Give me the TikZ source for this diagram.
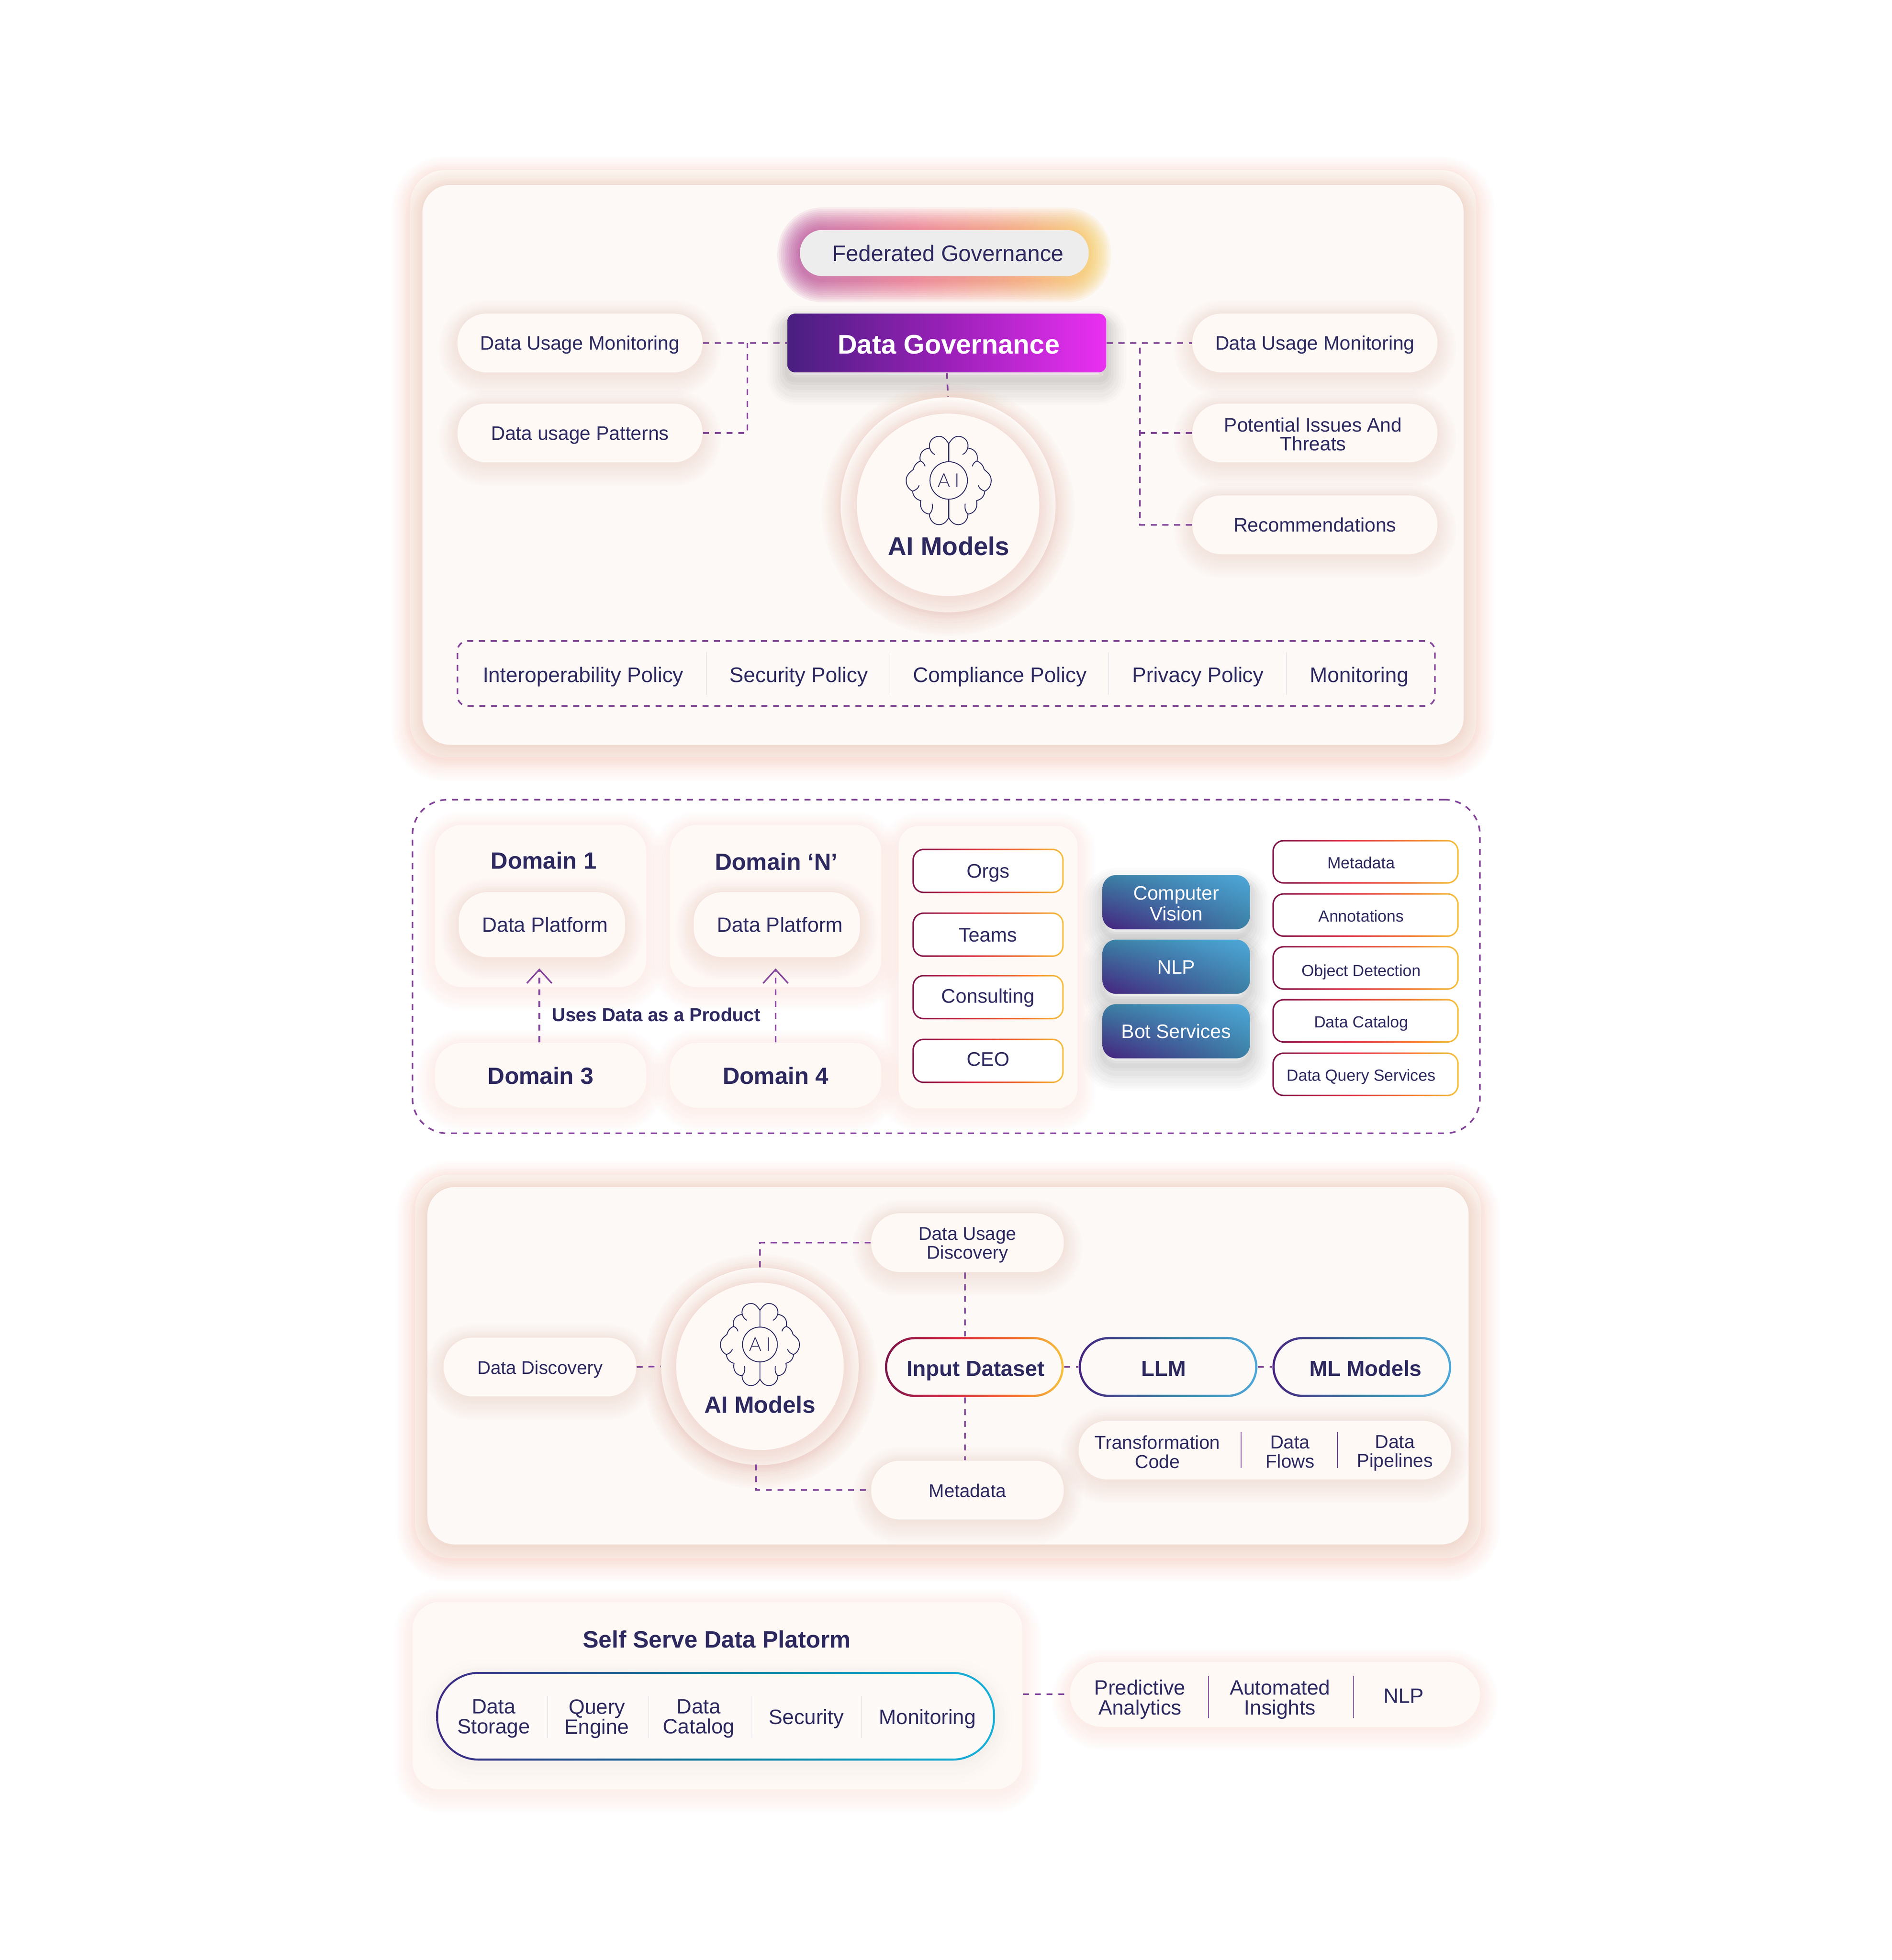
\documentclass[tikz,border=0pt]{standalone}
\usepackage{fontspec}
\setmainfont{Liberation Sans}
\newfontfamily\thinfont{Lato Light}
\usetikzlibrary{arrows.meta,calc,shadings}

\definecolor{inkblue}{HTML}{2D295F}
\definecolor{linkpurple}{HTML}{84459B}
\definecolor{peach}{HTML}{EF9F8A}
\definecolor{panelfill}{HTML}{FDF9F6}
\definecolor{bandfill}{HTML}{FCF5F0}
\definecolor{cardfill}{HTML}{FFF9F6}
\definecolor{warmA}{HTML}{7A1449}
\definecolor{warmB}{HTML}{DC2F45}
\definecolor{warmC}{HTML}{F0752F}
\definecolor{warmD}{HTML}{F6C23E}
\definecolor{servdark}{HTML}{46227F}
\definecolor{servmid}{HTML}{3A7FA2}
\definecolor{servlight}{HTML}{4EA8DA}
\definecolor{tealA}{HTML}{3F2A85}
\definecolor{tealB}{HTML}{087C9E}
\definecolor{tealC}{HTML}{18B0DA}
\definecolor{govA}{HTML}{481F80}
\definecolor{govB}{HTML}{9A20B8}
\definecolor{govC}{HTML}{EA30F2}
\definecolor{glowA}{HTML}{A8318F}
\definecolor{glowB}{HTML}{E8506F}
\definecolor{glowC}{HTML}{F58A4C}
\definecolor{glowD}{HTML}{F8CB45}

\pgfdeclarehorizontalshading{warmline}{100bp}{color(0bp)=(warmA);color(25bp)=(warmA);color(45bp)=(warmB);color(62bp)=(warmC);color(75bp)=(warmD);color(100bp)=(warmD)}
\pgfdeclarehorizontalshading{coolline}{100bp}{color(0bp)=(servdark);color(25bp)=(servdark);color(50bp)=(servmid);color(75bp)=(servlight);color(100bp)=(servlight)}
\pgfdeclarehorizontalshading{tealline}{100bp}{color(0bp)=(tealA);color(25bp)=(tealA);color(50bp)=(tealB);color(75bp)=(tealC);color(100bp)=(tealC)}
\pgfdeclarehorizontalshading{govshade}{100bp}{color(0bp)=(govA);color(25bp)=(govA);color(50bp)=(govB);color(75bp)=(govC);color(100bp)=(govC)}
\pgfdeclarehorizontalshading{rainbowglow}{100bp}{color(0bp)=(glowA);color(25bp)=(glowA);color(45bp)=(glowB);color(62bp)=(glowC);color(75bp)=(glowD);color(100bp)=(glowD)}

\tikzset{
  glowstep/.style n args={4}{preaction={draw=#1,draw opacity=#4,line width=#2,transform canvas={yshift=#3}}},
  softglow/.style={
    glowstep={#1}{15pt}{-2pt}{.022},glowstep={#1}{13.5pt}{-2pt}{.022},glowstep={#1}{12pt}{-2pt}{.024},
    glowstep={#1}{10.5pt}{-2pt}{.024},glowstep={#1}{9pt}{-2pt}{.026},glowstep={#1}{7.5pt}{-1.5pt}{.026},
    glowstep={#1}{6pt}{-1.5pt}{.028},glowstep={#1}{4.5pt}{-1pt}{.028},glowstep={#1}{3pt}{-1pt}{.03},
    glowstep={#1}{1.5pt}{-.5pt}{.03}},
  grayglow/.style={
    glowstep={black}{16pt}{-5pt}{.012},glowstep={black}{14pt}{-5pt}{.014},glowstep={black}{12pt}{-5pt}{.016},
    glowstep={black}{10pt}{-5pt}{.018},glowstep={black}{8pt}{-4pt}{.02},glowstep={black}{6pt}{-4pt}{.022},
    glowstep={black}{4pt}{-3pt}{.024},glowstep={black}{2pt}{-3pt}{.026}},
  paleglow/.style={
    glowstep={black}{14pt}{-2pt}{.004},glowstep={black}{11pt}{-2pt}{.005},glowstep={black}{8pt}{-2pt}{.006},
    glowstep={black}{5pt}{-1pt}{.007},glowstep={black}{2pt}{-1pt}{.008}},
  oneline/.style={text height=#1,text depth=0pt},
  oneline/.default=5.6pt,
  panelbox/.style={rectangle,fill=panelfill,rounded corners=11pt,softglow=peach},
  bandbox/.style={rectangle,fill=bandfill,rounded corners=14pt,softglow=peach},
  cardbox/.style={rectangle,fill=cardfill,rounded corners=11pt,softglow=peach!70,text=inkblue,align=center},
  pill/.style={rectangle,fill=cardfill,rounded corners=11.5pt,softglow=peach!80,text=inkblue,align=center,inner sep=0pt,oneline,
    minimum width=98pt,minimum height=23.5pt,font=\fontsize{7.8}{7.6}\selectfont},
  slimpill/.style={pill,minimum width=77pt,font=\fontsize{7.4}{7.6}\selectfont},
  headtext/.style={text=inkblue,align=center,inner sep=0pt,font=\fontsize{9.4}{11}\selectfont\bfseries},
  plaintext/.style={text=inkblue,align=center,inner sep=0pt,font=\fontsize{8.3}{8}\selectfont},
  policytext/.style={plaintext,oneline=6pt,font=\fontsize{8.45}{9}\selectfont},
  flowtext/.style={plaintext,font=\fontsize{7.5}{7.6}\selectfont},
  dashlink/.style={draw=linkpurple,line width=.65pt,dash pattern=on 2.4pt off 2.3pt},
  splitline/.style={draw=linkpurple,line width=.3pt},
  faintline/.style={draw=linkpurple!25,line width=.12pt},
  aiouter/.style={circle,fill=panelfill,inner sep=0pt,softglow=peach},
  aiinner/.style={circle,fill=cardfill,inner sep=0pt,softglow=peach},
  gradring/.style n args={4}{rectangle,shade,shading=#1,rounded corners=#2,text=inkblue,align=center,inner sep=0pt,oneline,
    path picture={\fill[#4,rounded corners={#2-#3}]
      ([shift={(#3,#3)}]path picture bounding box.south west) rectangle
      ([shift={(-#3,-#3)}]path picture bounding box.north east);}},
  tagbox/.style={gradring={warmline}{4.5pt}{.6pt}{white},oneline=5.3pt,minimum width=74.5pt,minimum height=17.5pt,
    font=\fontsize{6.45}{7}\selectfont,execute at end node={\hspace{3.5pt}}},
  teambox/.style={gradring={warmline}{4.5pt}{.6pt}{white},minimum width=60.5pt,minimum height=17.8pt,
    font=\fontsize{7.9}{8}\selectfont},
  servicebox/.style={rectangle,rounded corners=5.5pt,shade,shading=bilinear interpolation,lower left=servdark,upper right=servlight,upper left=servmid,lower right=servmid,
    grayglow,text=white,align=center,inner sep=0pt,oneline,minimum width=59pt,minimum height=21.7pt,font=\fontsize{7.8}{8.5}\selectfont},
  stagebox/.style n args={2}{gradring={#1}{#2}{.9pt}{panelfill},oneline=7.2pt,minimum width=71.5pt,minimum height=24pt,
    font=\fontsize{8.7}{9}\selectfont\bfseries},
  brainicon/.pic={
    \foreach \s in {-1,1}{
      \begin{scope}[xscale=\s]
        \draw[inkblue,line width=.35pt] (0,-29.4) .. controls (-3,-34) and (-5,-35.3) .. (-7.8,-35.3)
          .. controls (-12.5,-35.3) and (-16.5,-31) .. (-15.2,-25.9)
          .. controls (-20,-25.5) and (-24,-22) .. (-22.7,-15.6)
          .. controls (-26,-14) and (-27.5,-12) .. (-28.4,-8.7)
          .. controls (-31,-6.5) and (-34,-4.5) .. (-34,0)
          .. controls (-34,4) and (-32,7) .. (-28.9,8.6)
          .. controls (-28.5,12.5) and (-26.5,15) .. (-22.3,16.2)
          .. controls (-23.5,22) and (-20.5,26.5) .. (-15.4,26.9)
          .. controls (-15.5,31.5) and (-12,35.4) .. (-7.8,35.4)
          .. controls (-4.5,35.4) and (-2,33.5) .. (0,29.8);
        \draw[inkblue,line width=.35pt] (-15.2,-25.9) .. controls (-14.5,-23.5) and (-13,-21.5) .. (-11.1,-20.8);
        \draw[inkblue,line width=.35pt] (-22.7,-15.6) .. controls (-20.5,-14.8) and (-19.3,-13) .. (-18.9,-11.3);
        \draw[inkblue,line width=.35pt] (-28.9,8.6) .. controls (-26,7.6) and (-24.2,6) .. (-23.7,3.9);
        \draw[inkblue,line width=.35pt] (-15.4,26.9) .. controls (-13,24.5) and (-12.8,22) .. (-13.2,18.6);
      \end{scope}
    }
    \draw[inkblue,line width=.35pt] (0,-29.4) -- (0,-15);
    \draw[inkblue,line width=.35pt] (0,15) -- (0,29.8);
    \draw[inkblue,line width=.35pt] (0,0) circle (15);
    \node[text=inkblue,inner sep=0pt,font=\thinfont\fontsize{7.6}{8}\selectfont] (ailetters) at (0,0) {A\kern1.8pt I};
  }
}

\begin{document}
\begin{tikzpicture}[x=0.5pt,y=-0.5pt]
    \useasboundingbox (0,0) rectangle (1513.5,1568.6);

    % top block
    \node[bandbox,minimum width=426.5pt,minimum height=235pt] (band1) at (754.5,371) {};
    \node[panelbox,minimum width=416.5pt,minimum height=224pt] (panel1) at (754.5,372) {};

    \foreach \g in {1.5,3,...,18}
      \shade[shading=rainbowglow,opacity=.08,rounded corners={(18+\g)*.5pt}] (640-\g,184-\g) rectangle (871+\g,224+\g);
    \node[rectangle,fill=black!7,rounded corners=9pt,text=inkblue,inner sep=0pt,oneline=6.5pt,minimum width=115.5pt,minimum height=18.5pt,
      font=\fontsize{9}{10}\selectfont,execute at begin node={\hspace{3pt}}] (federated) at (755.5,202.5) {Federated Governance};
    \node[rectangle,shade,shading=govshade,rounded corners=3pt,grayglow,text=white,inner sep=0pt,oneline=8.7pt,minimum width=127.5pt,minimum height=23.5pt,
      font=\fontsize{10.8}{11}\selectfont\bfseries,execute at begin node={\hspace{1.5pt}}] (govern) at (757.5,274.5) {Data Governance};

    \node[pill] (usageleft) at (464,274.5) {Data Usage Monitoring};
    \node[pill] (patterns) at (464,346.5) {Data usage Patterns};
    \node[pill] (usageright) at (1052,274.5) {Data Usage Monitoring};
    \node[pill] (issues) at (1052,346.5) {};
    \node[plaintext,font=\fontsize{7.8}{7.6}\selectfont] (issuestext) at (1050.5,347.5) {Potential Issues And\\Threats};
    \node[pill] (recomm) at (1052,420) {Recommendations};

    \node[aiouter,minimum size=86pt] (aiouter1) at (758.5,404) {};
    \node[aiinner,minimum size=73pt] (aiinner1) at (758.5,404) {};
    \pic at (759,384.5) {brainicon};
    \node[headtext,font=\fontsize{10.3}{11}\selectfont\bfseries] (ailabel1) at (759,437) {AI Models};

    \coordinate (leftjoin) at (598,274.5);
    \coordinate (rightjoin) at (912,274.5);
    \draw[dashlink] (usageleft.east) -- (govern.west);
    \draw[dashlink] (patterns.east) -| (leftjoin);
    \draw[dashlink] (govern.east) -- (usageright.west);
    \draw[dashlink] (recomm.west) -| (rightjoin);
    \draw[dashlink] (issues.west) -- (issues.west -| rightjoin);
    \draw[dashlink] (govern.south) -- (aiouter1.north);

    \node[rectangle,dashlink,rounded corners=4pt,minimum width=391pt,minimum height=26pt] (policies) at (757,539) {};
    \node[policytext] (interop) at (466.5,540) {Interoperability Policy};
    \node[policytext] (secpolicy) at (639,540) {Security Policy};
    \node[policytext] (compliance) at (800,540) {Compliance Policy};
    \node[policytext] (privacy) at (958.5,540) {Privacy Policy};
    \node[policytext] (monitor) at (1087.5,540) {Monitoring};
    \draw[faintline] (565,522) -- (565,556);
    \draw[faintline] (712,522) -- (712,556);
    \draw[faintline] (887,522) -- (887,556);
    \draw[faintline] (1029,522) -- (1029,556);

    % domains block
    \node[rectangle,dashlink,rounded corners=14pt,minimum width=427pt,minimum height=133.5pt] (meshframe) at (757,773.5) {};

    \node[cardbox,minimum width=84.5pt,minimum height=65pt] (domainone) at (432.5,725) {};
    \node[cardbox,minimum width=84.5pt,minimum height=65pt] (domainn) at (620.5,725) {};
    \node[headtext] (domainonetext) at (435,688.5) {Domain 1};
    \node[headtext] (domainntext) at (621,689.5) {Domain ‘N’};
    \node[slimpill,oneline=6pt,minimum width=66.5pt,minimum height=26pt,font=\fontsize{8.25}{9}\selectfont,execute at begin node={\hspace{2.5pt}}] (platformone) at (433.5,740) {Data Platform};
    \node[slimpill,oneline=6pt,minimum width=66.5pt,minimum height=26pt,font=\fontsize{8.25}{9}\selectfont,execute at begin node={\hspace{2.5pt}}] (platformn) at (621.5,740) {Data Platform};
    \node[cardbox,oneline=7.2pt,inner sep=0pt,minimum width=84.5pt,minimum height=26pt,font=\fontsize{9.4}{11}\selectfont\bfseries] (domainthree) at (432.5,860.5) {Domain 3};
    \node[cardbox,oneline=7.2pt,inner sep=0pt,minimum width=84.5pt,minimum height=26pt,font=\fontsize{9.4}{11}\selectfont\bfseries] (domainfour) at (620.5,860.5) {Domain 4};

    \coordinate (tipone) at (431.5,775);
    \coordinate (tipn) at (620.5,775);
    \draw[dashlink,-{Straight Barb[length=5.5pt,width=10pt,line width=.6pt]}] (domainthree.north -| tipone) -- (tipone);
    \draw[dashlink,-{Straight Barb[length=5.5pt,width=10pt,line width=.6pt]}] (domainfour.north -| tipn) -- (tipn);
    \node[plaintext,font=\fontsize{7.5}{8}\selectfont\bfseries] (usesdata) at (525,812) {Uses Data as a Product};

    \node[cardbox,minimum width=71.5pt,minimum height=113pt,rounded corners=8pt] (teampanel) at (790.5,774) {};
    \node[teambox] (orgs) at (790.5,697) {Orgs};
    \node[teambox] (teams) at (790.5,748) {Teams};
    \node[teambox,oneline=4.6pt] (consulting) at (790.5,798) {Consulting};
    \node[teambox,oneline=4.2pt] (ceo) at (790.5,849) {CEO};

    \node[servicebox] (vision) at (941,722) {};
    \node[plaintext,text=white,font=\fontsize{7.8}{8.25}\selectfont] (visiontext) at (941,723) {Computer\\Vision};
    \node[servicebox] (nlpbox) at (941,773.7) {NLP};
    \node[servicebox] (botbox) at (941,825.3) {Bot Services};

    \node[tagbox] (metatag) at (1092.5,689.7) {Metadata};
    \node[tagbox] (annot) at (1092.5,732.3) {Annotations};
    \node[tagbox,oneline=6.6pt] (objdetect) at (1092.5,774.6) {Object Detection};
    \node[tagbox] (cattag) at (1092.5,817) {Data Catalog};
    \node[tagbox] (querytag) at (1092.5,859.8) {Data Query Services};

    % pipeline block
    \node[bandbox,minimum width=426.5pt,minimum height=153.5pt] (band2) at (758.5,1093.5) {};
    \node[panelbox,minimum width=416.5pt,minimum height=143pt] (panel2) at (758.5,1093) {};

    \node[slimpill] (usagedisc) at (774,994.5) {};
    \node[plaintext,font=\fontsize{7.4}{7.6}\selectfont] (usagedisctext) at (774,996.5) {Data Usage\\Discovery};
    \node[slimpill] (discovery) at (432,1094) {Data Discovery};
    \node[slimpill] (metadata) at (774,1192.5) {Metadata};

    \node[aiouter,minimum size=79pt] (aiouter2) at (608,1093.5) {};
    \node[aiinner,minimum size=67pt] (aiinner2) at (608,1093.5) {};
    \pic[scale=.93] at (608,1076) {brainicon};
    \node[headtext] (ailabel2) at (608,1124) {AI Models};

    \node[stagebox={warmline}{12pt},execute at begin node={\hspace{1pt}}] (inputset) at (779.5,1094) {Input Dataset};
    \node[stagebox={coolline}{12pt},execute at end node={\hspace{3.5pt}}] (llmbox) at (934.5,1094) {LLM};
    \node[stagebox={coolline}{12pt},execute at begin node={\hspace{3pt}}] (mlbox) at (1089.5,1094) {ML Models};

    \coordinate (feedline) at (772,1094);
    \coordinate (metaleft) at (605,1172);
    \draw[dashlink] (discovery.east) -- (aiouter2.west);
    \draw[dashlink] (aiouter2.north) |- (usagedisc.west);
    \draw[dashlink] (metaleft) |- (metadata.west);
    \draw[dashlink] (usagedisc.south -| feedline) -- (inputset.north -| feedline);
    \draw[dashlink] (inputset.south -| feedline) -- (metadata.north -| feedline);
    \draw[dashlink] (inputset.east) -- (llmbox.west);
    \draw[dashlink] (llmbox.east) -- (mlbox.west);

    \node[pill,minimum width=149pt] (flowpill) at (1012,1160.5) {};
    \node[flowtext] (transform) at (926,1162) {Transformation\\Code};
    \node[flowtext] (dataflows) at (1032,1162) {Data\\Flows};
    \node[flowtext] (datapipes) at (1116,1163) {Data\\Pipelines};
    \draw[splitline] (993,1146) -- (993,1175);
    \draw[splitline] (1070,1146) -- (1070,1175);

    % self serve block
    \node[cardbox,minimum width=244pt,minimum height=75pt] (selfserve) at (574,1357) {};
    \node[headtext,font=\fontsize{9.5}{10}\selectfont\bfseries] (selftitle) at (573.5,1312) {Self Serve Data Platorm};
    \node[gradring={tealline}{17pt}{.8pt}{panelfill},paleglow,minimum width=223.5pt,minimum height=35.5pt] (toolring) at (572.5,1373.5) {};
    \node[plaintext] (storage) at (395,1375.5) {Data\\Storage};
    \node[plaintext] (engine) at (477.5,1375.5) {Query\\Engine};
    \node[plaintext] (catalog) at (559,1375.5) {Data\\Catalog};
    \node[plaintext,oneline=6pt] (security) at (645,1374) {Security};
    \node[plaintext,oneline=6pt] (monitoring) at (742,1374) {Monitoring};
    \draw[faintline] (438,1357) -- (438,1391);
    \draw[faintline] (519,1357) -- (519,1391);
    \draw[faintline] (601,1357) -- (601,1391);
    \draw[faintline] (689,1357) -- (689,1391);

    \node[pill,minimum width=164pt,minimum height=26pt,rounded corners=13pt] (insightpill) at (1020,1356) {};
    \draw[dashlink] (selfserve.east |- insightpill) -- (insightpill.west);
    \node[plaintext] (predictive) at (912,1360) {Predictive\\Analytics};
    \node[plaintext] (automated) at (1024,1360) {Automated\\Insights};
    \node[plaintext,oneline=6pt] (nlplabel) at (1123,1357) {NLP};
    \draw[splitline] (967,1341) -- (967,1375);
    \draw[splitline] (1083,1341) -- (1083,1375);
\end{tikzpicture}
\end{document}
